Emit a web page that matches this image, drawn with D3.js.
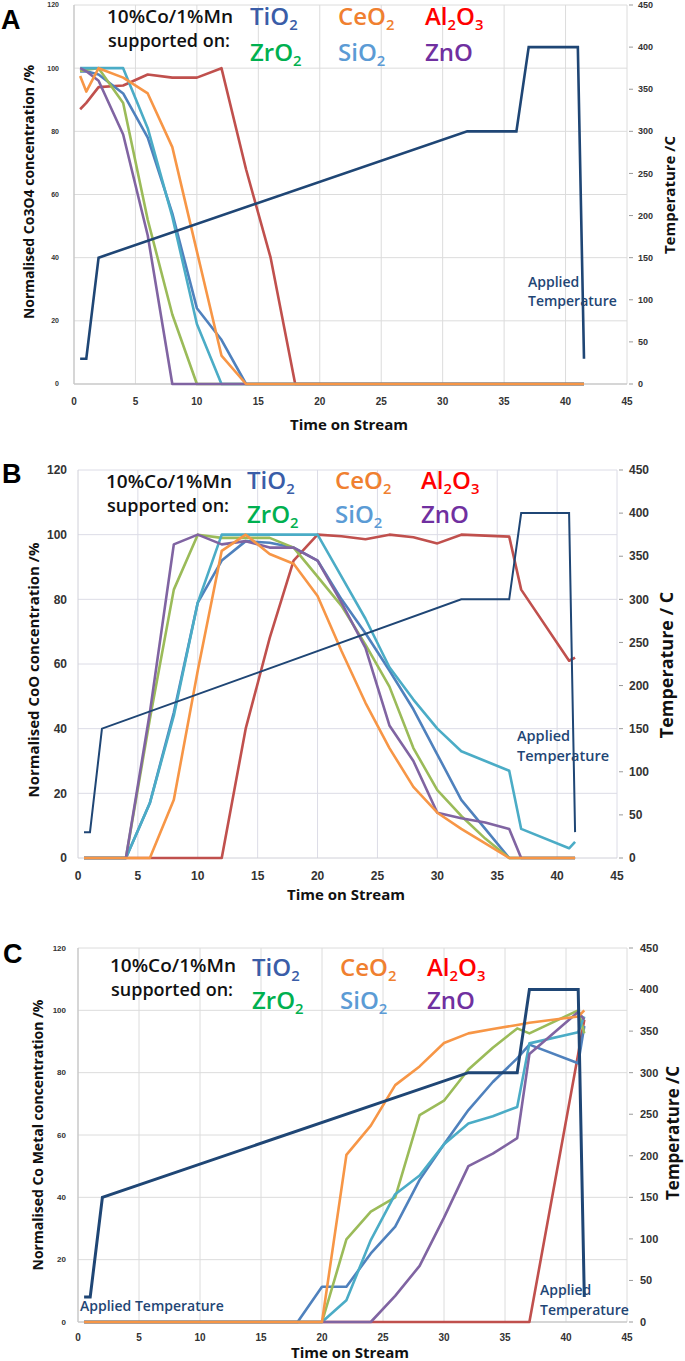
<!DOCTYPE html>
<html><head><meta charset="utf-8">
<script src="https://cdn.jsdelivr.net/npm/d3@7"></script>
<style>
html,body{margin:0;padding:0;background:#fff;}
svg{display:block;}
</style></head>
<body>
<svg id="chart" width="685" height="1361"></svg>
<script>
// ---------------- DATA ----------------
const times = [0.5, 1, 2, 4, 6, 8, 10, 12, 14, 16, 18, 20, 22, 24, 26, 28, 30, 32, 34, 36, 37, 41, 41.5];
const tempTimes  = [0.5, 1, 2, 32, 36, 37, 41, 41.5];
const tempValues = [30, 30, 150, 300, 300, 400, 400, 30];

const xTicks = [0, 5, 10, 15, 20, 25, 30, 35, 40, 45];
const leftTicks = [0, 20, 40, 60, 80, 100, 120];
const rightTicks = [0, 50, 100, 150, 200, 250, 300, 350, 400, 450];

const supports = ["Al2O3", "TiO2", "ZrO2", "SiO2", "ZnO", "CeO2"];

// Panel A: Co3O4
const co3o4_TiO2  = [99, 99, 98, 92, 78, 54, 24, 14, 0, 0, 0, 0, 0, 0, 0, 0, 0, 0, 0, 0, 0, 0, 0];
const co3o4_SiO2  = [100, 100, 100, 100, 81, 53, 19, 0, 0, 0, 0, 0, 0, 0, 0, 0, 0, 0, 0, 0, 0, 0, 0];
const co3o4_CeO2  = [97.5, 92.6, 100, 97, 92, 75, 42, 9, 0, 0, 0, 0, 0, 0, 0, 0, 0, 0, 0, 0, 0, 0, 0];
const co3o4_ZrO2  = [99, 99.5, 100, 89, 52, 22, 0, 0, 0, 0, 0, 0, 0, 0, 0, 0, 0, 0, 0, 0, 0, 0, 0];
const co3o4_ZnO   = [100, 99, 96, 79, 47, 0, 0, 0, 0, 0, 0, 0, 0, 0, 0, 0, 0, 0, 0, 0, 0, 0, 0];
const co3o4_Al2O3 = [87, 89, 94, 94.5, 98, 97, 97, 100, 68, 40, 0, 0, 0, 0, 0, 0, 0, 0, 0, 0, 0, 0, 0];

// Panel B: CoO
const coo_TiO2  = [0, 0, 0, 0, 17, 45, 79, 92, 98, 97.5, 96, 92, 80, 69.5, 58, 46, 32, 18, 9, 0, 0, 0, 0];
const coo_SiO2  = [0, 0, 0, 0, 17, 44, 79, 100, 100, 100, 100, 100, 87, 74, 59, 49, 40, 33, 30, 27, 9, 3, 5];
const coo_CeO2  = [0, 0, 0, 0, 0, 18, 58, 95, 100, 94, 91, 81, 64, 48, 34, 22, 14, 9, 4.5, 0, 0, 0, 0];
const coo_ZrO2  = [0, 0, 0, 0, 43, 83, 100, 99, 99, 99, 96, 87, 78, 66, 53, 34, 21, 13, 6, 0, 0, 0, 0];
const coo_ZnO   = [0, 0, 0, 0, 45, 97, 100, 97, 98, 96, 96, 92, 79, 65, 41, 30, 14, 12.3, 11, 9, 0, 0, 0];
const coo_Al2O3 = [0, 0, 0, 0, 0, 0, 0, 0, 40, 68, 92, 100, 99.5, 98.6, 100, 99.2, 97.3, 100, 99.7, 99.4, 83, 61, 62];

// Panel C: Co metal
const coMetal_TiO2  = [0, 0, 0, 0, 0, 0, 0, 0, 0, 0, 0, 11.3, 11.3, 22, 30.6, 45.6, 57, 68, 77, 84.6, 89, 83, 95];
const coMetal_SiO2  = [0, 0, 0, 0, 0, 0, 0, 0, 0, 0, 0, 0, 7, 26.3, 41, 47, 57, 63.7, 66, 69, 89.4, 93, 98];
const coMetal_CeO2  = [0, 0, 0, 0, 0, 0, 0, 0, 0, 0, 0, 0, 53.6, 63, 76, 82, 89.5, 92.6, 94, 95.3, 96, 98, 100];
const coMetal_ZrO2  = [0, 0, 0, 0, 0, 0, 0, 0, 0, 0, 0, 0, 26.5, 35.4, 40, 66.4, 71, 81, 88, 94.2, 92.6, 100, 92.6];
const coMetal_ZnO   = [0, 0, 0, 0, 0, 0, 0, 0, 0, 0, 0, 0, 0, 0, 8.4, 18, 33.5, 50, 54, 59, 86, 99.5, 97];
const coMetal_Al2O3 = [0, 0, 0, 0, 0, 0, 0, 0, 0, 0, 0, 0, 0, 0, 0, 0, 0, 0, 0, 0, 0, 86, 97];

// ---------------- STYLE ----------------
const lineColors = {TiO2:"#4F81BD", SiO2:"#4BACC6", CeO2:"#F79646", ZrO2:"#9BBB59", ZnO:"#8064A2", Al2O3:"#C0504D"};
const labelColors = {TiO2:"#3A5DA8", SiO2:"#5B9BD5", CeO2:"#F08030", ZrO2:"#00B050", ZnO:"#7030A0", Al2O3:"#FF0000"};
const tempColor = "#1F4675";
const FONT = "'Open Sans', 'DejaVu Sans', sans-serif";

const svg = d3.select("#chart");

function chem(g, x, y, parts, color, size) {
  const t = g.append("text").attr("x", x).attr("y", y)
    .attr("fill", color).attr("font-family", FONT).attr("font-size", size).attr("font-weight", 600);
  parts.forEach((p, i) => {
    const isSub = i % 2 === 1;
    const ts = t.append("tspan").text(p);
    if (isSub) ts.attr("font-size", size * 0.62).attr("dy", size * 0.22);
    else if (i > 0) ts.attr("dy", -size * 0.22);
  });
}

const chemParts = {
  TiO2: ["TiO", "2"], CeO2: ["CeO", "2"], Al2O3: ["Al", "2", "O", "3"],
  ZrO2: ["ZrO", "2"], SiO2: ["SiO", "2"], ZnO: ["ZnO"]
};

function drawPanel(cfg) {
  const g = svg.append("g");
  const x = d3.scaleLinear().domain([0, 45]).range(cfg.xr);
  const y = d3.scaleLinear().domain([0, 120]).range(cfg.yr);
  const yT = d3.scaleLinear().domain([0, 450]).range(cfg.yr);

  // grid
  g.append("g").selectAll("line").data(xTicks.filter(d => d > 0)).join("line")
    .attr("x1", d => x(d)).attr("x2", d => x(d)).attr("y1", cfg.yr[0]).attr("y2", cfg.yr[1])
    .attr("stroke", cfg.gridColor).attr("stroke-width", 1);
  g.append("g").selectAll("line").data(leftTicks.filter(d => d > 0)).join("line")
    .attr("x1", cfg.xr[0]).attr("x2", cfg.xr[1]).attr("y1", d => y(d)).attr("y2", d => y(d))
    .attr("stroke", cfg.gridColor).attr("stroke-width", 1);

  // axes lines
  g.append("line").attr("x1", cfg.xr[0]).attr("x2", cfg.xr[0]).attr("y1", cfg.yr[0]).attr("y2", cfg.yr[1])
    .attr("stroke", cfg.axisColor).attr("stroke-width", cfg.axisW);
  g.append("line").attr("x1", cfg.xr[0]).attr("x2", cfg.xr[1]).attr("y1", cfg.yr[0]).attr("y2", cfg.yr[0])
    .attr("stroke", cfg.axisColor).attr("stroke-width", cfg.axisW);

  // tick labels
  g.append("g").selectAll("text").data(leftTicks).join("text")
    .attr("x", cfg.leftLabelX).attr("y", d => y(d)).attr("dy", "0.35em").attr("text-anchor", "end")
    .attr("font-family", "'Liberation Sans', Arial, sans-serif").attr("font-weight", "bold")
    .attr("font-size", cfg.leftFs).attr("fill", cfg.tickColor).text(d => d);
  g.append("g").selectAll("text").data(xTicks).join("text")
    .attr("x", d => x(d)).attr("y", cfg.xLabelY).attr("text-anchor", "middle")
    .attr("font-family", "'Liberation Sans', Arial, sans-serif").attr("font-weight", "bold")
    .attr("font-size", cfg.xFs).attr("fill", cfg.tickColor).text(d => d);
  g.append("g").selectAll("line").data(rightTicks).join("line")
    .attr("x1", cfg.xr[1] + 2).attr("x2", cfg.xr[1] + 6).attr("y1", d => yT(d)).attr("y2", d => yT(d))
    .attr("stroke", "#999").attr("stroke-width", 1);
  g.append("g").selectAll("text").data(rightTicks).join("text")
    .attr("x", cfg.rightLabelX).attr("y", d => yT(d)).attr("dy", "0.35em").attr("text-anchor", "start")
    .attr("font-family", "'Liberation Sans', Arial, sans-serif").attr("font-weight", "bold")
    .attr("font-size", cfg.rightFs).attr("fill", cfg.tickColor).text(d => d);

  // axis titles
  g.append("text").attr("transform", `translate(${cfg.leftTitleX},${cfg.leftTitleY}) rotate(-90)`)
    .attr("text-anchor", "middle").attr("font-family", FONT).attr("font-weight", 700)
    .attr("font-size", cfg.leftTitleFs).attr("fill", "#111").attr("dy", "0.35em").text(cfg.leftTitle);
  g.append("text").attr("transform", `translate(${cfg.rightTitleX},${cfg.rightTitleY}) rotate(-90)`)
    .attr("text-anchor", "middle").attr("font-family", FONT).attr("font-weight", 700)
    .attr("font-size", cfg.rightTitleFs).attr("fill", "#111").attr("dy", "0.35em").text(cfg.rightTitle);
  g.append("text").attr("x", cfg.xTitleX).attr("y", cfg.xTitleY).attr("text-anchor", "middle")
    .attr("font-family", FONT).attr("font-weight", 700).attr("font-size", cfg.xTitleFs).attr("fill", "#111")
    .text("Time on Stream");

  // panel letter
  g.append("text").attr("x", cfg.letterX).attr("y", cfg.letterY).attr("font-family", "'Liberation Sans', Arial, sans-serif")
    .attr("font-weight", "bold").attr("font-size", 27).attr("fill", "#000").text(cfg.letter);

  // series
  const line = d3.line().x((d, i) => x(times[i])).y(d => y(d));
  supports.forEach(s => {
    g.append("path").datum(cfg.series[s]).attr("d", line).attr("fill", "none")
      .attr("stroke", lineColors[s]).attr("stroke-width", 2.6).attr("stroke-linejoin", "round");
  });
  // temperature
  const tline = d3.line().x((d, i) => x(tempTimes[i])).y(d => yT(d));
  g.append("path").datum(tempValues).attr("d", tline).attr("fill", "none")
    .attr("stroke", tempColor).attr("stroke-width", cfg.tempW).attr("stroke-linejoin", "miter");

  // Applied temperature labels
  cfg.applied.forEach(a => {
    g.append("text").attr("x", a.x).attr("y", a.y).attr("font-family", FONT).attr("font-weight", 600)
      .attr("font-size", a.fs).attr("fill", tempColor).text(a.text);
  });

  // legend
  const L = cfg.legend;
  g.append("text").attr("x", L.x0).attr("y", L.r1).attr("font-family", FONT).attr("font-weight", 600)
    .attr("font-size", 18).attr("fill", "#111").attr("textLength", 126).attr("lengthAdjust", "spacingAndGlyphs")
    .text("10%Co/1%Mn");
  g.append("text").attr("x", L.x0 + 1).attr("y", L.r1b).attr("font-family", FONT).attr("font-weight", 600)
    .attr("font-size", 18).attr("fill", "#111").attr("textLength", 122).attr("lengthAdjust", "spacingAndGlyphs")
    .text("supported on:");
  const pos = {TiO2:[L.c1, L.r1c], CeO2:[L.c2, L.r1c], Al2O3:[L.c3, L.r1c], ZrO2:[L.c1, L.r2c], SiO2:[L.c2, L.r2c], ZnO:[L.c3, L.r2c]};
  Object.keys(pos).forEach(k => chem(g, pos[k][0], pos[k][1], chemParts[k], labelColors[k], 24));
}

drawPanel({
  letter: "A", letterX: 1, letterY: 29,
  xr: [74, 627], yr: [384, 5],
  gridColor: "#dcdcdc", axisColor: "#c8c8c8", axisW: 1.5, tickColor: "#333",
  leftLabelX: 59, leftFs: 7, xLabelY: 405, xFs: 10, rightLabelX: 638, rightFs: 9,
  leftTitle: "Normalised Co3O4 concentration /%", leftTitleX: 29, leftTitleY: 192, leftTitleFs: 14,
  rightTitle: "Temperature /C", rightTitleX: 670, rightTitleY: 195, rightTitleFs: 15,
  xTitleX: 349, xTitleY: 430, xTitleFs: 15,
  tempW: 2.6,
  series: {TiO2: co3o4_TiO2, SiO2: co3o4_SiO2, CeO2: co3o4_CeO2, ZrO2: co3o4_ZrO2, ZnO: co3o4_ZnO, Al2O3: co3o4_Al2O3},
  applied: [{x: 528, y: 287, fs: 14, text: "Applied"}, {x: 528, y: 306, fs: 14, text: "Temperature"}],
  legend: {x0: 107, r1: 23, r1b: 47, c1: 250, c2: 338, c3: 425, r1c: 25, r2c: 61}
});

drawPanel({
  letter: "B", letterX: 2, letterY: 483,
  xr: [78, 617], yr: [858, 470],
  gridColor: "#dcdce6", axisColor: "#d0d0d8", axisW: 1, tickColor: "#333",
  leftLabelX: 67, leftFs: 12, xLabelY: 880, xFs: 12, rightLabelX: 629, rightFs: 12,
  leftTitle: "Normalised CoO concentration /%", leftTitleX: 34, leftTitleY: 670, leftTitleFs: 15,
  rightTitle: "Temperature / C", rightTitleX: 667, rightTitleY: 665, rightTitleFs: 18,
  xTitleX: 346, xTitleY: 900, xTitleFs: 15,
  tempW: 2,
  series: {TiO2: coo_TiO2, SiO2: coo_SiO2, CeO2: coo_CeO2, ZrO2: coo_ZrO2, ZnO: coo_ZnO, Al2O3: coo_Al2O3},
  applied: [{x: 517, y: 741, fs: 14.5, text: "Applied"}, {x: 517, y: 761, fs: 14.5, text: "Temperature"}],
  legend: {x0: 106, r1: 488, r1b: 512, c1: 247, c2: 335, c3: 421, r1c: 489, r2c: 523}
});

drawPanel({
  letter: "C", letterX: 3, letterY: 963,
  xr: [78, 627], yr: [1322, 948],
  gridColor: "#dcdcdc", axisColor: "#c8c8c8", axisW: 1.5, tickColor: "#333",
  leftLabelX: 66, leftFs: 8, xLabelY: 1341, xFs: 10, rightLabelX: 640, rightFs: 11,
  leftTitle: "Normalised Co Metal concentration /%", leftTitleX: 38, leftTitleY: 1135, leftTitleFs: 14,
  rightTitle: "Temperature /C", rightTitleX: 673, rightTitleY: 1133, rightTitleFs: 17,
  xTitleX: 350, xTitleY: 1358, xTitleFs: 15,
  tempW: 3,
  series: {TiO2: coMetal_TiO2, SiO2: coMetal_SiO2, CeO2: coMetal_CeO2, ZrO2: coMetal_ZrO2, ZnO: coMetal_ZnO, Al2O3: coMetal_Al2O3},
  applied: [{x: 80, y: 1311, fs: 14, text: "Applied Temperature"}, {x: 540, y: 1295, fs: 14, text: "Applied"}, {x: 540, y: 1315, fs: 14, text: "Temperature"}],
  legend: {x0: 110, r1: 972, r1b: 996, c1: 252, c2: 340, c3: 427, r1c: 976, r2c: 1009}
});
</script>
</body></html>
